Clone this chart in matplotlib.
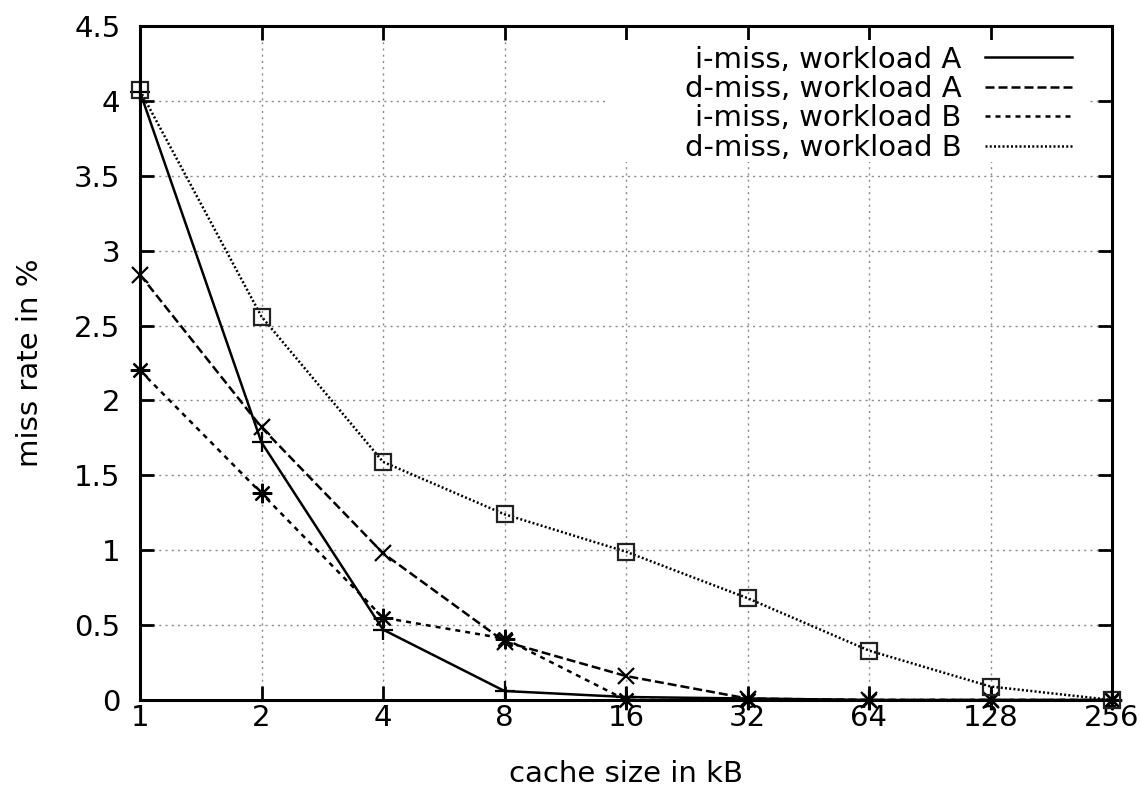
import matplotlib
matplotlib.use("Agg")
import matplotlib.pyplot as plt
from matplotlib.lines import Line2D
from matplotlib.patches import Rectangle

cache_kb = [1, 2, 4, 8, 16, 32, 64, 128, 256]
i_miss_A = [4.06, 1.72, 0.47, 0.06, 0.02, 0.01, 0.0, 0.0, 0.0]
d_miss_A = [2.84, 1.82, 0.98, 0.39, 0.16, 0.01, 0.0, 0.0, 0.0]
i_miss_B = [2.20, 1.38, 0.55, 0.41, 0.0, 0.0, 0.0, 0.0, 0.0]
d_miss_B = [4.07, 2.56, 1.59, 1.24, 0.99, 0.68, 0.33, 0.09, 0.0]
labels = ["i-miss, workload A", "d-miss, workload A",
          "i-miss, workload B", "d-miss, workload B"]
yticks = [0, 0.5, 1, 1.5, 2, 2.5, 3, 3.5, 4, 4.5]
ytick_labels = ["0", "0.5", "1", "1.5", "2", "2.5", "3", "3.5", "4", "4.5"]

plt.rcParams['font.family'] = ['DejaVu Sans']
FS = 21

fig = plt.figure(figsize=(11.4, 7.96), dpi=100)
ax = fig.add_axes([140/1140, 1-700/796, 972/1140, 674/796])

lw = 1.8
styles = [
    dict(ls='-', marker='+', ms=14, mew=1.6),
    dict(ls=(0, (3.6, 1.6)), marker='x', ms=12, mew=1.6),
    dict(ls=(0, (2.0, 2.0)), marker=(8, 2, 0), ms=14, mew=1.6),
    dict(ls=(0, (0.8, 0.9)), marker='s', ms=11.5, mew=1.6, mfc='none', mec='#222222'),
]
series = [i_miss_A, d_miss_A, i_miss_B, d_miss_B]
for s, st in zip(series, styles):
    ax.plot(cache_kb, s, color='black', lw=lw, zorder=3, clip_on=False, **st)

ax.set_xscale('log', base=2)
ax.set_xlim(1, 256)
ax.set_ylim(0, 4.5)
ax.set_xticks(cache_kb)
ax.set_xticklabels([str(v) for v in cache_kb])
ax.set_yticks(yticks)
ax.set_yticklabels(ytick_labels)
ax.minorticks_off()

ax.set_axisbelow(True)
ax.grid(True, color='#8a8a8a', lw=1.0, ls=(0, (1.5, 3)))

ax.tick_params(axis='both', which='major', direction='in', length=10, width=2,
               top=True, right=True, labelsize=FS)
ax.tick_params(axis='x', pad=3)
ax.tick_params(axis='y', pad=14)
for sp in ax.spines.values():
    sp.set_linewidth(2.2)
    sp.set_zorder(4)

# opaque key box
ax.add_patch(Rectangle((0.478, 0.798), 0.975-0.478, 0.979-0.798,
                       transform=ax.transAxes, facecolor='white',
                       edgecolor='none', zorder=1))

handles = [Line2D([], [], color='black', lw=lw, ls=st['ls']) for st in styles]
leg = ax.legend(handles, labels, loc='upper right', bbox_to_anchor=(0.959, 0.971),
                frameon=False, markerfirst=False, fontsize=FS, handlelength=3.0,
                handletextpad=0.8, labelspacing=0.05, borderpad=0, borderaxespad=0)
for t in leg.get_texts():
    t.set_ha('right')

ax.set_xlabel("cache size in kB", fontsize=FS, labelpad=20)
ax.set_ylabel("miss rate in %", fontsize=FS, labelpad=22)

fig.savefig("out.png", dpi=100)
